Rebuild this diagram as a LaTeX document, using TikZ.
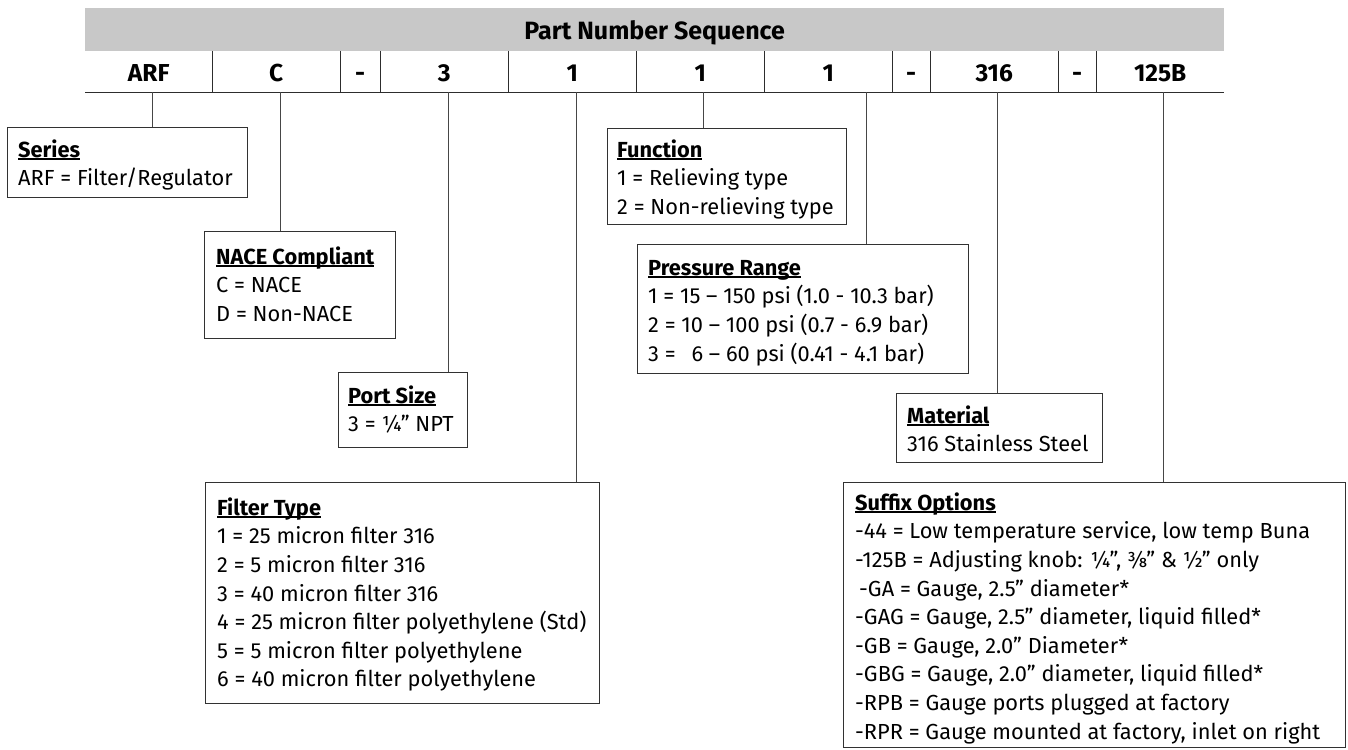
\documentclass[tikz,border=0pt]{standalone}
\usepackage{fontspec}
\setmainfont{Fira Sans}
\usetikzlibrary{calc}
\definecolor{hdrgray}{RGB}{200,200,200}
\definecolor{linec}{RGB}{45,45,45}
\definecolor{boxc}{RGB}{50,50,50}
\definecolor{connc}{RGB}{70,70,70}
\newcommand\ulx[1]{\setbox0\hbox{#1}\rlap{\rule[-2.4pt]{\wd0}{1.3pt}}\box0}
\begin{document}
\begin{tikzpicture}[x=1pt,y=-1pt,
  cell/.style={minimum height=41pt, inner sep=0pt, anchor=north west,
    text height=19pt, text depth=0pt,
    font=\fontsize{24.5}{28}\selectfont\bfseries},
  box/.style={draw=boxc, line width=1.3pt, anchor=north west, inner sep=0pt},
  txt/.style={anchor=north west, inner sep=0pt, align=left,
    font=\fontsize{21.8}{28.6}\selectfont},
  conn/.style={draw=connc, line width=1pt},
  sep/.style={draw=linec, line width=1pt}]
\useasboundingbox (0,0) rectangle (1348,749);
% header
\node[fill=hdrgray, anchor=north west, minimum width=1139pt, minimum height=43pt,
  inner sep=0pt, text height=19.6pt, text depth=0pt,
  font=\fontsize{25}{28}\selectfont\bfseries] (hdr) at (85,8) {Part Number Sequence};
% cells
\node[cell, minimum width=127pt] (arf)   at (85,51)   {ARF};
\node[cell, minimum width=128pt] (cc)    at (212,51)  {C};
\node[cell, minimum width=40pt]  (da)    at (340,51)  {-};
\node[cell, minimum width=128pt] (three) at (380,51)  {3};
\node[cell, minimum width=128pt] (fa)    at (508,51)  {1};
\node[cell, minimum width=128pt] (fb)    at (636,51)  {1};
\node[cell, minimum width=128pt] (fc)    at (764,51)  {1};
\node[cell, minimum width=38pt]  (db)    at (892,51)  {-};
\node[cell, minimum width=128pt] (mat)   at (930,51)  {316};
\node[cell, minimum width=38pt]  (dc)    at (1058,51) {-};
\node[cell, minimum width=128pt] (suf)   at (1096,51) {125B};
\foreach \c in {arf,cc,da,three,fa,fb,fc,db,mat,dc}
  \draw[sep] (\c.north east) -- (\c.south east);
\draw[sep] (arf.south west) -- (suf.south east);
% boxes
\node[box, minimum width=240pt, minimum height=70pt]  (series)   at (7,127)   {};
\node[box, minimum width=191pt, minimum height=107pt] (nace)     at (204,231) {};
\node[box, minimum width=129pt, minimum height=75pt]  (port)     at (338,372) {};
\node[box, minimum width=394pt, minimum height=221pt] (filter)   at (205,482) {};
\node[box, minimum width=239pt, minimum height=96pt]  (function) at (607,128) {};
\node[box, minimum width=331pt, minimum height=129pt] (pressure) at (637,244) {};
\node[box, minimum width=206pt, minimum height=69pt]  (material) at (896,393) {};
\node[box, minimum width=502pt, minimum height=265pt] (suffix)   at (843,482) {};
% texts (top = first baseline - 20)
\node[txt] (seriesT) at (18,137) {\strut\ulx{\bfseries Series}\\ARF = Filter/Regulator};
\node[txt] (naceT) at (216,244) {\strut\ulx{\bfseries NACE Compliant}\\C = NACE\\D = Non-NACE};
\node[txt] (portT) at (348,383) {\strut\ulx{\bfseries Port Size}\\3 = ¼” NPT};
\node[txt] (filterT) at (217,495) {\strut\ulx{\bfseries Filter Type}\\1 = 25 micron filter 316\\2 = 5 micron filter 316\\3 = 40 micron filter 316\\4 = 25 micron filter polyethylene (Std)\\5 = 5 micron filter polyethylene\\6 = 40 micron filter polyethylene};
\node[txt] (functionT) at (617,137) {\strut\ulx{\bfseries Function}\\1 = Relieving type\\2 = Non-relieving type};
\node[txt] (pressureT) at (648,255) {\strut\ulx{\bfseries Pressure Range}\\1 = 15 – 150 psi (1.0 - 10.3 bar)\\2 = 10 – 100 psi (0.7 - 6.9 bar)\\3 = \hspace{10pt}6 – 60 psi (0.41 - 4.1 bar)};
\node[txt] (materialT) at (907,403) {\strut\ulx{\bfseries Material}\\316 Stainless Steel};
\node[txt] (suffixT) at (855,490) {\strut\ulx{\bfseries Suffix Options}\\-44 = Low temperature service, low temp Buna\\-125B = Adjusting knob: ¼”, ⅜” \& ½” only\\\hspace{4pt}-GA = Gauge, 2.5” diameter*\\-GAG = Gauge, 2.5” diameter, liquid filled*\\-GB = Gauge, 2.0” Diameter*\\-GBG = Gauge, 2.0” diameter, liquid filled*\\-RPB = Gauge ports plugged at factory\\-RPR = Gauge mounted at factory, inlet on right};
% connectors
\coordinate (k1) at ([xshift=3.5pt]arf.south);
\coordinate (k2) at ([xshift=4pt]cc.south);
\coordinate (k3) at ([xshift=4pt]three.south);
\coordinate (k4) at ([xshift=4pt]fa.south);
\coordinate (k5) at ([xshift=3pt]fb.south);
\coordinate (k6) at ([xshift=38pt]fc.south);
\coordinate (k7) at ([xshift=3pt]mat.south);
\coordinate (k8) at ([xshift=3pt]suf.south);
\draw[conn] (k1) -- (k1 |- series.north);
\draw[conn] (k2) -- (k2 |- nace.north);
\draw[conn] (k3) -- (k3 |- port.north);
\draw[conn] (k4) -- (k4 |- filter.north);
\draw[conn] (k5) -- (k5 |- function.north);
\draw[conn] (k6) -- (k6 |- pressure.north);
\draw[conn] (k7) -- (k7 |- material.north);
\draw[conn] (k8) -- (k8 |- suffix.north);
\end{tikzpicture}
\end{document}
